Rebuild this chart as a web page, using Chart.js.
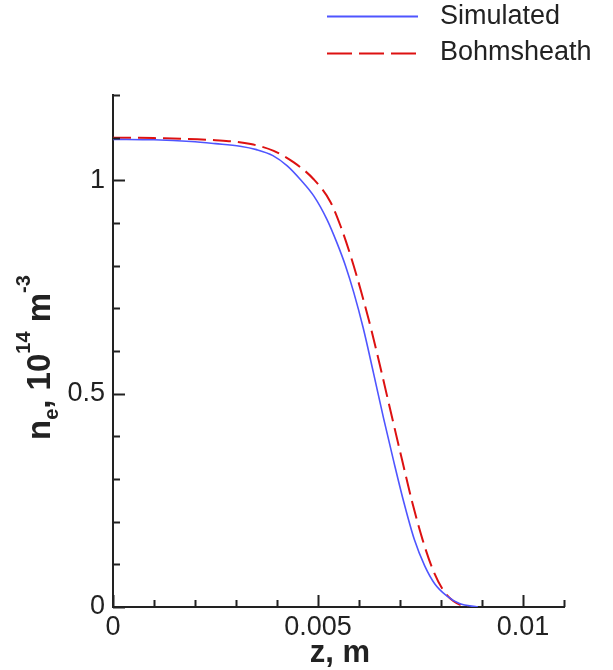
<!DOCTYPE html>
<html>
<head>
<meta charset="utf-8">
<script src="https://cdn.jsdelivr.net/npm/chart.js@4.4.1/dist/chart.umd.min.js"></script>
<style>
  html, body { margin: 0; padding: 0; background: #fff; }
  canvas { display: block; }
</style>
</head>
<body>
<canvas id="c" width="613" height="670"></canvas>
<script>
// Simulated (blue, solid)
const zSim = [0, 0.0010, 0.0019, 0.0025, 0.0031, 0.0035, 0.0039, 0.00425, 0.00457, 0.0049,
  0.00522, 0.00546, 0.00567, 0.00587, 0.0061, 0.00635, 0.0066, 0.00685, 0.0071, 0.00735,
  0.0076, 0.00785, 0.00814, 0.00845, 0.0089];
const neSim = [1.096, 1.095, 1.091, 1.086, 1.080, 1.072, 1.058, 1.034, 1.002, 0.963,
  0.908, 0.854, 0.800, 0.738, 0.655, 0.550, 0.442, 0.340, 0.243, 0.158,
  0.097, 0.054, 0.026, 0.008, 0.0];

// Bohm sheath (red, dashed)
const zBohm = [0, 0.0010, 0.0025, 0.00336, 0.00392, 0.00441, 0.0049, 0.0053, 0.00555, 0.0058,
  0.00605, 0.0063, 0.00655, 0.0068, 0.00705, 0.0073, 0.00755, 0.0078, 0.00805, 0.0083,
  0.0085, 0.00865];
const neBohm = [1.100, 1.099, 1.094, 1.085, 1.069, 1.042, 1.002, 0.950, 0.893, 0.822,
  0.740, 0.650, 0.550, 0.447, 0.345, 0.245, 0.158, 0.088, 0.040, 0.014,
  0.004, 0.0];

const seriesNames = ['Simulated', 'Bohmsheath'];
const xMajor = [0, 0.005, 0.01];
const yMajor = [0, 0.5, 1];

const BLUE = '#4f55ff';
const RED = '#dd1111';
const INK = '#222';
const TICK_FONT = '27px "Liberation Sans", Arial, sans-serif';
const RED_DASH = [18, 7];

const pts = (xs, ys) => xs.map((x, i) => ({ x, y: ys[i] }));
const isMajor = (v, list) => list.some(m => Math.abs(v - m) < 1e-9);
const fmt = v => String(+v.toFixed(4));

// inward tick marks, like the original plot
const tickMarks = {
  id: 'tickMarks',
  afterDraw(chart) {
    const { ctx, chartArea: a } = chart;
    const xs = chart.scales.x, ys = chart.scales.y;
    ctx.save();
    ctx.strokeStyle = INK;
    ctx.lineWidth = 2;
    ctx.beginPath();
    xs.ticks.forEach(t => {
      const px = Math.round(xs.getPixelForValue(t.value)) + 0.5;
      const len = isMajor(t.value, xMajor) ? 12 : 7;
      ctx.moveTo(px, a.bottom);
      ctx.lineTo(px, a.bottom - len);
    });
    ys.ticks.forEach(t => {
      const py = Math.round(ys.getPixelForValue(t.value)) + 0.5;
      const len = isMajor(t.value, yMajor) ? 12 : 7;
      ctx.moveTo(a.left, py);
      ctx.lineTo(a.left + len, py);
    });
    ctx.stroke();
    ctx.restore();
  }
};

// axis titles with sub/superscripts and the legend
const annotations = {
  id: 'annotations',
  afterDraw(chart) {
    const { ctx } = chart;
    ctx.save();
    ctx.fillStyle = INK;
    ctx.textBaseline = 'alphabetic';

    // x title
    ctx.font = 'bold 31px "Liberation Sans", Arial, sans-serif';
    ctx.textAlign = 'center';
    ctx.fillText('z, m', 340, 662);

    // y title, rotated
    ctx.textAlign = 'left';
    ctx.translate(50, 440);
    ctx.rotate(-Math.PI / 2);
    const big = 'bold 33px "Liberation Sans", Arial, sans-serif';
    const small = 'bold 20px "Liberation Sans", Arial, sans-serif';
    const parts = [
      { t: 'n', f: big, dy: 0 },
      { t: 'e', f: small, dy: 8 },
      { t: ', ', f: big, dy: 0 },
      { t: '10', f: big, dy: 0 },
      { t: '14', f: small, dy: -20 },
      { t: ' m', f: big, dy: 0 },
      { t: '-3', f: small, dy: -20 }
    ];
    let cx = 0;
    parts.forEach(p => {
      ctx.font = p.f;
      ctx.fillText(p.t, cx, p.dy);
      cx += ctx.measureText(p.t).width;
    });
    ctx.setTransform(1, 0, 0, 1, 0, 0);

    // legend
    ctx.lineWidth = 2;
    ctx.strokeStyle = BLUE;
    ctx.beginPath();
    ctx.moveTo(327, 16.5);
    ctx.lineTo(418, 16.5);
    ctx.stroke();
    ctx.strokeStyle = RED;
    ctx.setLineDash([25, 7]);
    ctx.beginPath();
    ctx.moveTo(327, 53.5);
    ctx.lineTo(418, 53.5);
    ctx.stroke();
    ctx.setLineDash([]);
    ctx.font = TICK_FONT;
    ctx.textBaseline = 'middle';
    ctx.fillText(seriesNames[0], 440, 17);
    ctx.fillText(seriesNames[1], 440, 53);
    ctx.restore();
  }
};

new Chart(document.getElementById('c'), {
  type: 'scatter',
  data: {
    datasets: [
      {
        label: seriesNames[0],
        data: pts(zSim, neSim),
        showLine: true,
        borderColor: BLUE,
        borderWidth: 1.6,
        pointRadius: 0,
        cubicInterpolationMode: 'monotone'
      },
      {
        label: seriesNames[1],
        data: pts(zBohm, neBohm),
        showLine: true,
        borderColor: RED,
        borderWidth: 2,
        borderDash: RED_DASH,
        pointRadius: 0,
        cubicInterpolationMode: 'monotone'
      }
    ]
  },
  options: {
    responsive: false,
    animation: false,
    layout: { padding: { top: 95, right: 49, left: 0, bottom: 0 } },
    plugins: { legend: { display: false }, tooltip: { enabled: false } },
    scales: {
      x: {
        type: 'linear',
        min: 0,
        max: 0.011,
        grid: { display: false, drawTicks: false },
        border: { display: true, color: INK, width: 2 },
        ticks: {
          stepSize: 0.001,
          autoSkip: false,
          maxRotation: 0,
          padding: 4,
          color: INK,
          font: { family: '"Liberation Sans", Arial, sans-serif', size: 27 },
          callback: v => isMajor(v, xMajor) ? fmt(v) : ''
        },
        afterFit: s => { s.height = 63; }
      },
      y: {
        type: 'linear',
        min: 0,
        max: 1.2,
        grid: { display: false, drawTicks: false },
        border: { display: true, color: INK, width: 2 },
        ticks: {
          stepSize: 0.1,
          autoSkip: false,
          padding: 8,
          color: INK,
          font: { family: '"Liberation Sans", Arial, sans-serif', size: 27 },
          callback: v => isMajor(v, yMajor) ? fmt(v) : ''
        },
        afterFit: s => { s.width = 113; }
      }
    }
  },
  plugins: [tickMarks, annotations]
});
</script>
</body>
</html>
